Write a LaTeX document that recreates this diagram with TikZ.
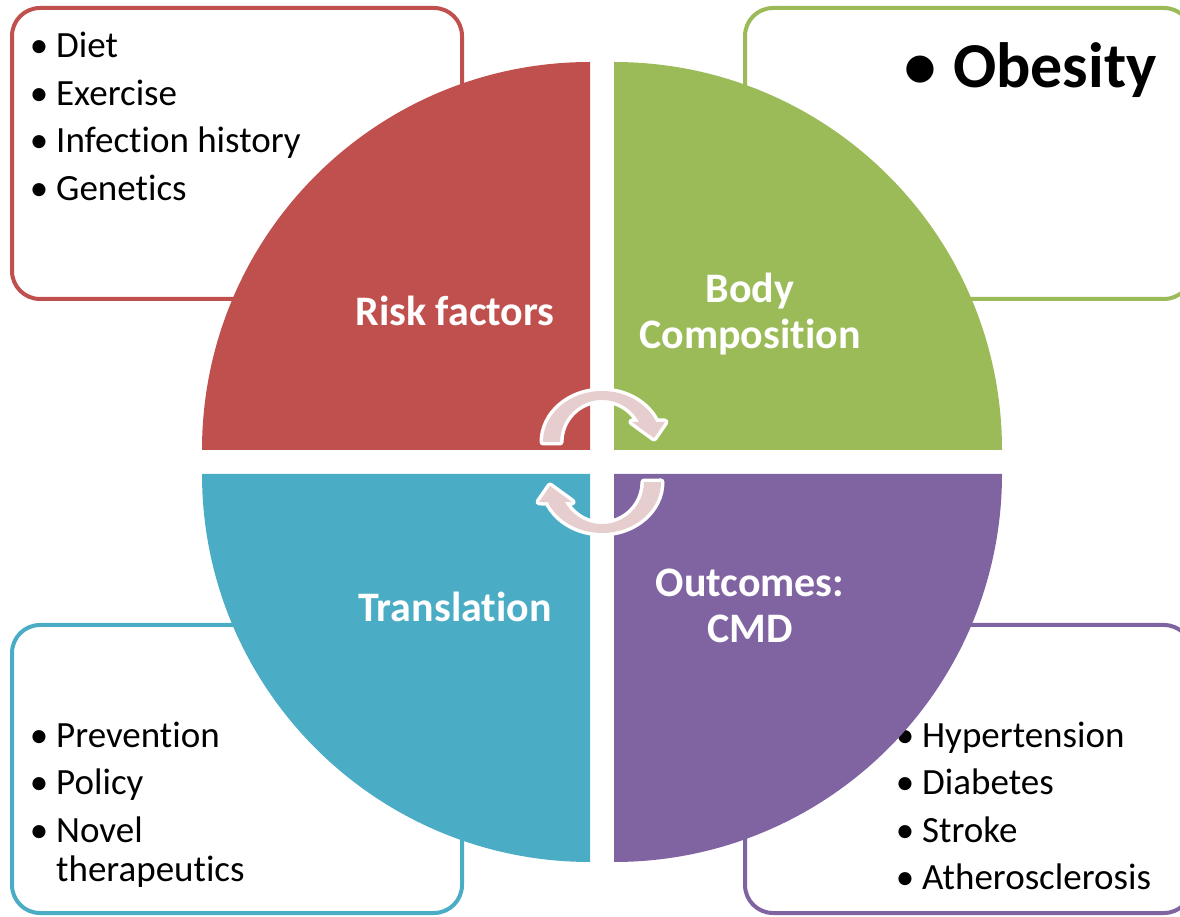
\documentclass[tikz,border=0pt]{standalone}
\usepackage{fontspec}
\setmainfont{Carlito}[Ligatures={NoCommon,NoContextual}, Contextuals=NoAlternate]
\definecolor{riskred}{HTML}{C0504D}
\definecolor{bodygreen}{HTML}{9BBB59}
\definecolor{transcyan}{HTML}{4BACC6}
\definecolor{outpurple}{HTML}{8064A2}
\definecolor{arrowpink}{HTML}{E6CDCE}
\newcommand\bulletbox[1]{\makebox[#1][c]{•}}
% keeps "t" and "i" apart
\newcommand\ti{t\kern0pt i}
\tikzset{
  listbox/.style={line width=4pt, rounded corners=28pt, fill=white},
  listtext/.style={anchor=base west, inner sep=0pt, text=black,
    font=\fontsize{37}{47.5}\selectfont},
  quadlabel/.style={anchor=base, inner sep=0pt, text=white,
    font=\fontsize{42}{46}\selectfont\bfseries},
  arrowbody/.style={fill=arrowpink,
    preaction={draw=white, line width=7pt, line join=round}},
  cyclearrow/.pic={
    \path[arrowbody] (-59,0)
      arc[start angle=180, end angle=23.1, x radius=59, y radius=51]
      -- (63,20) -- (52,4) -- (30,20) -- (37,20)
      arc[start angle=28.4, end angle=180, radius=42] -- cycle;
  }
}
\begin{document}
\begin{tikzpicture}[x=1pt, y=1pt]
\useasboundingbox (0,0) rectangle (1180,916);
\clip (0,0) rectangle (1180,916);

% outer list boxes
\draw[listbox, draw=riskred]    (12,617) rectangle (462,908);
\draw[listbox, draw=bodygreen]  (745,617) rectangle (1192,908);
\draw[listbox, draw=transcyan]  (12,3) rectangle (462,291);
\draw[listbox, draw=outpurple]  (745,3) rectangle (1192,291);

% list contents
\node[listtext] (risklist) at (22,858) {\begin{tabular}[t]{@{}l@{}}
  \bulletbox{34pt}Diet\\
  \bulletbox{34pt}Exercise\\
  \bulletbox{34pt}Infection history\\
  \bulletbox{34pt}Gene\ti cs
\end{tabular}};
\node[listtext, font=\fontsize{64}{70}\selectfont\bfseries] (bodylist) at (887,828)
  {\bulletbox{66pt}Obesity};
\node[listtext] (translist) at (22,169) {\begin{tabular}[t]{@{}l@{}}
  \bulletbox{34pt}Preven\ti on\\
  \bulletbox{34pt}Policy\\
  \bulletbox{34pt}Novel\\[-8pt]
  \hspace*{34pt}therapeu\ti cs
\end{tabular}};
\node[listtext] (outlist) at (888,169) {\begin{tabular}[t]{@{}l@{}}
  \bulletbox{34pt}Hypertension\\
  \bulletbox{34pt}Diabetes\\
  \bulletbox{34pt}Stroke\\
  \bulletbox{34pt}Atherosclerosis
\end{tabular}};

% the four quadrants of the wheel
\fill[riskred]    (590,466) -- (590,854) arc[start angle=90, end angle=180, radius=388] -- cycle;
\fill[bodygreen]  (614,466) -- (1002,466) arc[start angle=0, end angle=90, radius=388] -- cycle;
\fill[transcyan]  (590,442) -- (202,442) arc[start angle=180, end angle=270, radius=388] -- cycle;
\fill[outpurple]  (614,442) -- (614,54) arc[start angle=270, end angle=360, radius=388] -- cycle;

% quadrant titles
\node[quadlabel] (risk) at (455,590) {Risk factors};
\node[quadlabel] (body) at (750,613) {\begin{tabular}[t]{@{}c@{}}Body\\Composi\ti on\end{tabular}};
\node[quadlabel] (trans) at (455,294) {Transla\ti on};
\node[quadlabel] (outc) at (750,319) {\begin{tabular}[t]{@{}c@{}}Outcomes:\\CMD\end{tabular}};

% circular arrows in the hub
\pic (toparrow) at (602,474) {cyclearrow};
\pic[rotate=180] (bottomarrow) at (602,434) {cyclearrow};
\end{tikzpicture}
\end{document}
